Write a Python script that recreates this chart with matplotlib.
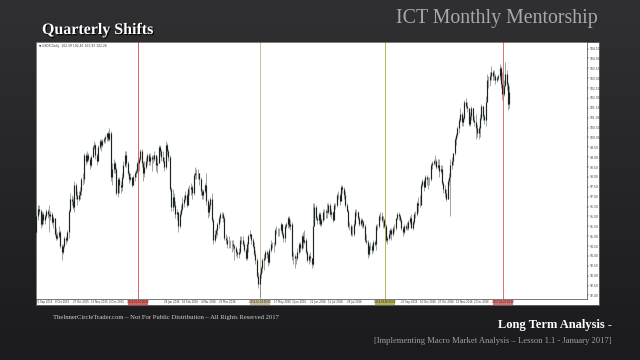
import numpy as np
import pandas as pd
import matplotlib
matplotlib.use("Agg")
import matplotlib.pyplot as plt
from matplotlib.patches import Rectangle
from matplotlib.colors import LinearSegmentedColormap
import matplotlib.patheffects as pe

# ---------------- data (USDX daily) ----------------
start_date = "2015-09-21"
end_date = "2017-01-06"
skip_dates = ["2015-12-25", "2016-01-01"]
first_open = 95.2

highs = [
    # Sep 2015
    96.2, 96.6, 96.6, 96.4, 96.3, 96.2, 96.1, 96.4,
    # Oct 2015
    96.4, 96.6, 96.3, 96.2, 96.0, 95.9, 95.4, 95.2, 95.5, 95.3, 94.6, 94.6, 95.0, 95.0, 95.3, 96.4, 97.2, 97.1, 97.0, 97.8, 97.7, 97.3,
    # Nov 2015
    97.3, 97.5, 98.0, 98.2, 99.2, 99.2, 99.3, 99.2, 99.0, 99.1, 99.6, 99.8, 99.7, 99.2, 99.6, 99.9, 99.9, 99.9, 100.0, 100.1, 100.2,
    # Dec 2015
    100.3, 100.5, 100.3, 98.7, 98.9, 98.8, 98.5, 98.0, 98.0, 97.8, 98.2, 98.8, 99.3, 99.3, 98.8, 98.3, 98.2, 98.0, 98.1, 98.3, 98.4, 98.8,
    # Jan 2016
    99.0, 99.4, 99.4, 98.8, 98.8, 99.0, 99.2, 99.2, 99.2, 99.1, 99.1, 99.3, 99.1, 99.0, 99.6, 99.6, 99.4, 99.3, 99.0, 99.8,
    # Feb 2016
    99.7, 99.4, 99.1, 97.5, 97.4, 97.2, 96.8, 96.4, 96.2, 96.3, 96.6, 97.0, 97.1, 97.3, 97.2, 97.5, 97.6, 97.7, 97.6, 98.2, 98.5,
    # Mar 2016
    98.4, 98.4, 98.2, 98.0, 97.4, 97.4, 97.7, 98.2, 96.9, 96.7, 97.0, 97.2, 95.9, 95.3, 95.4, 95.7, 96.0, 96.2, 96.2, 96.2, 96.0, 95.1, 95.0,
    # Apr 2016
    95.0, 94.8, 94.8, 94.8, 94.6, 94.5, 94.3, 94.4, 95.0, 95.0, 95.0, 94.7, 94.4, 94.7, 95.1, 95.3, 95.1, 94.9, 94.7, 94.3, 93.9,
    # May 2016
    93.2, 93.2, 93.5, 93.9, 94.1, 94.3, 94.3, 94.2, 94.4, 94.8, 94.7, 94.7, 95.4, 95.5, 95.4, 95.4, 95.7, 95.6, 95.2, 95.6, 95.7, 96.0,
    # Jun 2016
    96.0, 95.8, 95.7, 94.2, 94.1, 94.0, 94.4, 94.7, 94.7, 95.1, 95.2, 95.3, 94.9, 94.3, 94.1, 94.2, 93.9, 96.7, 96.7, 96.6, 96.0, 96.2,
    # Jul 2016
    96.2, 95.9, 96.4, 96.4, 96.4, 96.7, 96.7, 96.7, 96.4, 96.3, 96.7, 96.7, 97.2, 97.3, 97.2, 97.6, 97.6, 97.5, 97.3, 96.7, 96.4,
    # Aug 2016
    95.7, 95.6, 95.5, 95.8, 96.4, 96.4, 96.3, 96.0, 95.9, 95.9, 95.8, 95.6, 95.1, 94.8, 94.6, 94.7, 94.6, 94.8, 94.8, 95.6, 95.6, 96.1, 96.2,
    # Sep 2016
    96.2, 96.0, 95.9, 95.6, 95.0, 95.3, 95.4, 95.4, 95.5, 95.6, 95.9, 96.2, 96.2, 96.1, 95.9, 95.5, 95.6, 95.6, 95.7, 95.8, 96.0, 96.1,
    # Oct 2016
    95.8, 96.2, 96.3, 96.8, 97.0, 97.1, 97.7, 97.9, 97.9, 98.1, 98.1, 98.0, 98.0, 98.7, 98.8, 98.9, 99.1, 98.9, 98.9, 98.9, 98.6,
    # Nov 2016
    98.6, 97.8, 97.6, 97.4, 97.9, 98.2, 98.9, 99.0, 99.2, 100.0, 100.2, 100.6, 101.0, 101.5, 101.3, 101.1, 101.9, 102.0, 101.8, 101.5, 101.3, 101.6,
    # Dec 2016
    101.5, 101.1, 101.2, 100.7, 100.6, 101.2, 101.7, 101.6, 101.2, 102.1, 103.2, 103.1, 103.3, 103.6, 103.4, 103.4, 103.2, 103.1, 103.2, 103.7, 103.6, 103.3,
    # Jan 2017
    102.9, 103.8, 103.4, 102.8, 102.6,
]

lows = [
    # Sep 2015
    95.1, 95.8, 96.1, 95.4, 95.5, 95.6, 95.6, 95.9,
    # Oct 2015
    95.9, 95.2, 95.8, 95.6, 95.4, 95.0, 94.8, 94.8, 94.9, 94.4, 93.8, 94.1, 94.4, 94.6, 94.7, 94.9, 96.2, 96.6, 96.4, 96.2, 96.9, 96.6,
    # Nov 2015
    96.8, 96.9, 97.1, 97.6, 97.7, 98.6, 98.7, 98.8, 98.4, 98.5, 99.0, 99.4, 98.9, 98.6, 98.8, 99.4, 99.3, 99.5, 99.7, 99.7, 99.8,
    # Dec 2015
    99.8, 99.8, 97.8, 97.6, 98.2, 98.2, 97.1, 97.0, 97.2, 97.2, 97.3, 97.9, 98.5, 98.5, 98.1, 97.7, 97.8, 97.5, 97.6, 97.8, 98.0, 98.2,
    # Jan 2016
    98.3, 98.8, 98.5, 97.8, 98.0, 98.4, 98.6, 98.6, 98.6, 98.3, 98.7, 98.8, 98.3, 98.2, 98.7, 99.1, 98.8, 98.7, 98.3, 98.4,
    # Feb 2016
    99.1, 98.8, 97.3, 96.3, 96.3, 96.5, 95.9, 95.8, 95.2, 95.4, 96.0, 96.3, 96.5, 96.8, 96.5, 96.6, 97.1, 97.1, 96.9, 97.1, 97.9,
    # Mar 2016
    97.9, 97.9, 97.6, 97.1, 96.9, 96.9, 97.2, 96.6, 95.9, 96.0, 96.4, 95.7, 94.6, 94.7, 94.9, 95.0, 95.4, 95.7, 95.9, 95.7, 94.8, 94.6, 94.4,
    # Apr 2016
    94.4, 94.4, 94.2, 94.3, 93.8, 94.0, 93.9, 93.9, 94.1, 94.6, 94.5, 94.2, 93.8, 93.8, 94.2, 94.9, 94.6, 94.4, 94.0, 93.6, 92.9,
    # May 2016
    92.4, 91.9, 92.9, 93.2, 93.3, 93.8, 93.9, 93.5, 93.6, 94.2, 94.4, 94.2, 94.5, 95.1, 95.0, 95.0, 95.2, 95.0, 94.7, 94.7, 95.4, 95.4,
    # Jun 2016
    95.4, 95.3, 93.8, 93.6, 93.4, 93.6, 93.8, 94.1, 94.2, 94.3, 94.4, 94.6, 94.1, 93.7, 93.6, 93.7, 93.4, 93.5, 95.5, 95.8, 95.6, 95.6,
    # Jul 2016
    95.5, 95.5, 95.7, 95.8, 95.9, 95.9, 96.1, 96.0, 95.9, 95.7, 95.8, 96.4, 96.5, 96.9, 96.6, 96.8, 97.2, 96.9, 96.5, 96.2, 95.4,
    # Aug 2016
    95.3, 95.0, 95.0, 95.0, 95.5, 96.0, 95.8, 95.5, 95.5, 95.4, 95.4, 94.7, 94.6, 93.9, 94.0, 94.3, 94.1, 94.2, 94.5, 94.3, 95.3, 95.4, 95.8,
    # Sep 2016
    95.7, 95.4, 95.4, 94.7, 94.6, 94.8, 94.9, 94.8, 95.0, 95.2, 95.3, 95.8, 95.8, 95.7, 95.3, 95.0, 95.1, 95.3, 95.3, 95.3, 95.6, 95.4,
    # Oct 2016
    95.3, 95.6, 95.9, 96.0, 96.2, 96.5, 96.6, 97.5, 97.3, 97.5, 97.6, 97.4, 97.6, 97.8, 98.4, 98.6, 98.6, 98.4, 98.4, 98.0, 98.2,
    # Nov 2016
    97.6, 97.2, 97.0, 96.8, 96.9, 97.6, 96.0, 98.4, 98.6, 99.1, 99.6, 100.0, 100.2, 100.8, 100.6, 100.6, 100.9, 101.5, 101.3, 100.6, 100.6, 100.9,
    # Dec 2016
    100.8, 100.6, 99.9, 100.0, 99.9, 100.0, 100.9, 100.9, 100.7, 100.6, 101.8, 102.5, 102.6, 102.9, 102.9, 102.9, 102.7, 102.8, 102.9, 102.9, 102.5, 101.9,
    # Jan 2017
    102.1, 102.6, 102.4, 101.4, 101.5,
]

closes = [
    # Sep 2015
    96.0, 96.4, 96.3, 95.6, 96.1, 95.8, 96.0, 96.3,
    # Oct 2015
    96.1, 96.0, 96.1, 95.7, 95.9, 95.1, 94.9, 95.0, 95.2, 94.5, 94.2, 94.5, 94.9, 94.8, 95.2, 96.3, 96.9, 96.8, 96.5, 97.6, 97.1, 96.9,
    # Nov 2015
    97.1, 97.3, 97.9, 97.9, 99.1, 98.8, 99.1, 98.9, 98.6, 99.0, 99.5, 99.6, 99.1, 98.8, 99.5, 99.8, 99.6, 99.8, 99.9, 100.0, 100.2,
    # Dec 2015
    99.9, 100.2, 98.0, 98.4, 98.7, 98.4, 97.2, 97.9, 97.6, 97.5, 98.0, 98.6, 99.1, 98.7, 98.2, 97.9, 98.0, 97.6, 98.0, 98.2, 98.3, 98.7,
    # Jan 2016
    98.9, 99.3, 98.7, 98.2, 98.5, 98.8, 99.1, 98.8, 99.0, 98.9, 98.9, 99.1, 98.6, 98.7, 99.5, 99.3, 99.0, 98.8, 98.5, 99.6,
    # Feb 2016
    99.3, 99.0, 97.4, 96.5, 97.0, 96.6, 96.1, 96.2, 95.5, 96.1, 96.4, 96.7, 96.9, 97.1, 96.6, 97.4, 97.4, 97.5, 97.2, 98.1, 98.2,
    # Mar 2016
    98.2, 98.2, 97.9, 97.3, 97.1, 97.3, 97.6, 96.8, 96.2, 96.6, 96.9, 95.8, 94.8, 95.1, 95.3, 95.6, 95.9, 96.1, 96.1, 95.9, 94.9, 94.8, 94.6,
    # Apr 2016
    94.6, 94.6, 94.6, 94.5, 94.4, 94.2, 94.1, 94.2, 94.8, 94.8, 94.6, 94.3, 93.9, 94.6, 95.0, 95.1, 94.8, 94.5, 94.1, 93.8, 93.0,
    # May 2016
    92.6, 93.1, 93.4, 93.8, 93.9, 94.2, 94.1, 93.7, 94.3, 94.6, 94.6, 94.6, 95.3, 95.3, 95.3, 95.3, 95.6, 95.1, 94.9, 95.5, 95.6, 95.9,
    # Jun 2016
    95.5, 95.6, 94.0, 94.0, 93.9, 93.9, 94.2, 94.6, 94.4, 95.0, 94.7, 94.8, 94.2, 93.8, 94.0, 93.9, 93.6, 95.5, 96.5, 95.9, 95.8, 96.1,
    # Jul 2016
    95.6, 95.8, 96.2, 96.2, 96.3, 96.2, 96.6, 96.1, 96.2, 95.8, 96.6, 96.6, 97.1, 97.1, 96.8, 97.5, 97.4, 97.1, 96.6, 96.3, 95.5,
    # Aug 2016
    95.5, 95.1, 95.1, 95.6, 96.2, 96.2, 95.9, 95.6, 95.8, 95.7, 95.5, 94.8, 94.7, 94.1, 94.5, 94.5, 94.3, 94.7, 94.6, 95.5, 95.5, 96.0, 96.0,
    # Sep 2016
    95.8, 95.8, 95.5, 94.8, 94.9, 95.1, 95.3, 95.1, 95.4, 95.4, 95.9, 96.1, 96.0, 95.8, 95.4, 95.2, 95.5, 95.4, 95.4, 95.7, 95.9, 95.4,
    # Oct 2016
    95.7, 96.1, 96.1, 96.7, 96.6, 96.6, 97.6, 97.8, 97.5, 98.0, 97.9, 97.9, 97.9, 98.6, 98.7, 98.8, 98.8, 98.5, 98.6, 98.3, 98.4,
    # Nov 2016
    97.7, 97.4, 97.2, 96.9, 97.8, 98.0, 98.6, 98.8, 99.2, 99.9, 100.1, 100.5, 100.9, 101.2, 100.8, 101.0, 101.8, 101.6, 101.5, 100.7, 101.1, 101.5,
    # Dec 2016
    100.9, 100.8, 100.5, 100.2, 100.5, 101.0, 101.6, 101.1, 100.9, 101.8, 102.9, 102.9, 103.1, 103.3, 103.1, 103.1, 102.9, 103.0, 103.1, 103.5, 102.7, 102.2,
    # Jan 2017
    102.6, 103.2, 102.7, 101.7, 102.3,
]

line_dates = ["2016-01-01", "2016-05-04", "2016-09-06", "2017-01-01"]
line_colors = ["#e06060", "#cdbf9a", "#b8b45c", "#e07070"]
line_tags = ["2016.01.01 00:00", "2016.05.04 00:00", "2016.09.06 00:00", "2017.01.01 00:00"]

price_ticks = np.arange(92.0, 104.6, 0.5)
label_step = 13

# ---------------- build ----------------
dates = pd.bdate_range(start_date, end_date)
dates = dates[~dates.isin(pd.to_datetime(skip_dates))]
n = len(closes)
dates = dates[:n]
highs = np.array(highs[:n]); lows = np.array(lows[:n]); closes = np.array(closes[:n])
opens = np.concatenate([[first_open], closes[:-1]])
idx = np.arange(n)

W, H = 640, 360
fig = plt.figure(figsize=(6.4, 3.6), dpi=100)

# background gradient
bg = fig.add_axes([0, 0, 1, 1])
grad = np.linspace(0, 1, 256).reshape(-1, 1)
cmap = LinearSegmentedColormap.from_list("bg", ["#303033", "#1b1b1d"])
bg.imshow(grad, aspect="auto", cmap=cmap, extent=[0, 1, 0, 1])
bg.set_xlim(0, 1); bg.set_ylim(0, 1)
bg.axis("off")

def fx(x):
    return x / W

def fy(y):
    return 1 - y / H

# chart frame (white panel incl. price/date strips)
x0, x1, y0, y1 = 36, 599, 42, 305
bg.add_patch(Rectangle((fx(x0), fy(y1)), fx(x1 - x0), (y1 - y0) / H,
                       facecolor="white", edgecolor="#555555", lw=0.6, zorder=2))

px0, px1, py0, py1 = 36, 587, 42, 299
XMIN, XMAX = -0.3, 392.3
ax = fig.add_axes([fx(px0), fy(py1), fx(px1 - px0), (py1 - py0) / H])
ax.set_facecolor("white")
ax.set_xlim(XMIN, XMAX)
ax.set_ylim(91.82, 104.83)

def bar_px(i):
    return px0 + (i - XMIN) * (px1 - px0) / (XMAX - XMIN)

# candles
ax.vlines(idx, lows, highs, color="#707070", lw=0.45, zorder=3)
ax.vlines(idx, np.minimum(opens, closes), np.maximum(opens, closes),
          color="#1c2620", lw=0.85, zorder=4)

# quarterly lines
line_pos = [np.searchsorted(dates.values, np.datetime64(d)) - 0.5 for d in line_dates]
for p, c in zip(line_pos, line_colors):
    ax.axvline(p, color=c, lw=0.7, zorder=2)

ax.set_xticks([])
ax.yaxis.tick_right()
ax.set_yticks(price_ticks)
ax.set_yticklabels([f"{v:.2f}" for v in price_ticks], fontsize=2.2, color="#333333")
ax.tick_params(axis="y", length=1.2, width=0.3, pad=0.6, colors="#333333")
for s in ax.spines.values():
    s.set_color("#444444"); s.set_linewidth(0.5)

# header tag
ax.text(0.006, 0.993, "\u25bc USDX,Daily  102.39 102.45 101.93 102.26", transform=ax.transAxes,
        fontsize=2.2, color="#333333", va="top", ha="left")

# date labels (skip those hidden by the line tags)
tag_px = [bar_px(p) for p in line_pos]
for i in range(0, n, label_step):
    xl = bar_px(i)
    if any(abs(xl + 6 - t) < 18 for t in tag_px):
        continue
    d = dates[i]
    fig.text(fx(xl), fy(302), f"{d.day} {d.strftime('%b %Y')}", fontsize=1.9,
             color="#333333", ha="left", va="center")
for t, c, s in zip(tag_px, line_colors, line_tags):
    bg.add_patch(Rectangle((fx(t - 10), fy(304.5)), fx(20), 5 / H, facecolor=c,
                           edgecolor="none", zorder=5))
    fig.text(fx(t), fy(302), s, fontsize=1.8, color="#222222", ha="center", va="center", zorder=6)

# texts
serif = ["Liberation Serif", "DejaVu Serif"]
fig.text(fx(42), fy(30), "Quarterly Shifts", family=serif, weight="bold", fontsize=11.5,
         color="white", ha="left", va="center",
         path_effects=[pe.withSimplePatchShadow(offset=(0.8, -0.8), shadow_rgbFace="black", alpha=1)])
fig.text(fx(598), fy(18), "ICT Monthly Mentorship", family=serif, fontsize=14.3,
         color="#a9a9a9", ha="right", va="center")
fig.text(fx(53), fy(317), "TheInnerCircleTrader.com \u2013 Not For Public Distribution \u2013 All Rights Reserved 2017",
         family=serif, fontsize=4.8, color="#d0d0d0", ha="left", va="center")
fig.text(fx(612), fy(325), "Long Term Analysis -", family=serif, weight="bold", fontsize=9,
         color="white", ha="right", va="center")
fig.text(fx(612), fy(341), "[Implementing Macro Market Analysis \u2013 Lesson 1.1 - January 2017]",
         family=serif, fontsize=6.2, color="#a0a0a0", ha="right", va="center")

fig.savefig("out.png", dpi=100)
